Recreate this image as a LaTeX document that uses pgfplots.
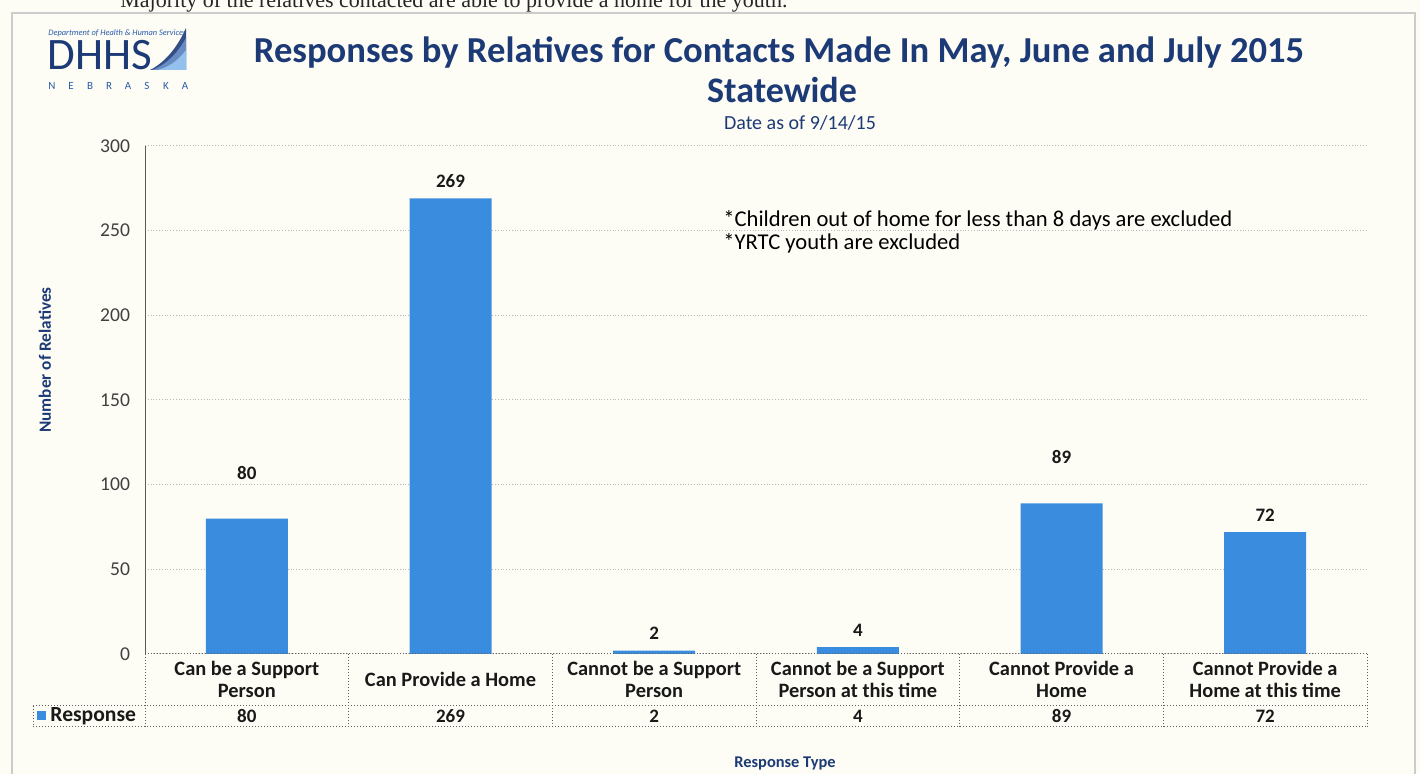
\documentclass[border=0pt]{standalone}
\usepackage{fontspec}
\setmainfont{Carlito}
\newfontfamily\serifont{Liberation Serif}
\usepackage{pgfplots}
\pgfplotsset{compat=1.18}
\definecolor{navy}{RGB}{28,58,118}
\definecolor{barblue}{RGB}{58,140,222}
\definecolor{bg}{RGB}{254,253,245}
\definecolor{tabline}{RGB}{95,95,95}
\definecolor{logoblue}{RGB}{40,90,170}
\newcommand{\lbl}{\bfseries\fontsize{9.5}{10.5}\selectfont}
\begin{document}
\begin{tikzpicture}[x=1pt,y=1pt]
\fill[bg] (0,0) rectangle (710,387);
\draw[gray!40, line width=0.6pt] (6,-2) -- (6,380.5) -- (707.5,380.5) -- (707.5,-2);
\node[anchor=base west, inner sep=0, font=\serifont\fontsize{11}{12}\selectfont, text=black!85] at (60,383) {Majority of the relatives contacted are able to provide a home for the youth.};
% logo
\node[anchor=west, inner sep=0, font=\itshape\fontsize{4.2}{5}\selectfont, text=logoblue] at (24,370.5) {Department of Health \& Human Services};
\node[anchor=base west, inner sep=0, font=\fontsize{22.5}{23}\selectfont, text=navy] at (23.5,352) {DHHS};
\fill[navy!90] (75,352) .. controls (83,356) and (89,364) .. (93,373) -- (93,352) -- cycle;
\fill[logoblue!70!white] (76,352) .. controls (84,355) and (89,361) .. (93,368) -- (93,352) -- cycle;
\fill[barblue!55!white] (79,352) .. controls (86,354) and (90,358) .. (93,362) -- (93,352) -- cycle;
\foreach \l [count=\i from 0] in {N,E,B,R,A,S,K,A}
  \node[inner sep=0, font=\fontsize{5.5}{6}\selectfont, text=logoblue] at (26+\i*9.5,344) {\l};
% titles
\node[font=\bfseries\fontsize{18.3}{20}\selectfont, text=navy] at (389.5,360.5) {Responses by Relatives for Contacts Made In May, June and July 2015};
\node[font=\bfseries\fontsize{18}{20}\selectfont, text=navy] at (391,342) {Statewide};
\node[font=\fontsize{10}{11}\selectfont, text=navy] at (400,325.5) {Date as of 9/14/15};
\node[rotate=90, font=\bfseries\fontsize{8.6}{9}\selectfont, text=navy] at (22.5,207) {Number of Relatives};
\node[font=\bfseries\fontsize{8.2}{9}\selectfont, text=navy] at (392.5,5.5) {Response Type};
\begin{axis}[
  at={(72.5pt,60pt)}, anchor=south west,
  scale only axis, width=611pt, height=254pt,
  xmin=-0.5, xmax=5.5, ymin=0, ymax=300,
  ytick={0,50,...,300},
  xtick={0,1,2,3,4,5},
  xticklabels={{Can be a Support\\Person},{Can Provide a Home},{Cannot be a Support\\Person},{Cannot be a Support\\Person at this time},{Cannot Provide a\\Home},{Cannot Provide a\\Home at this time}},
  xticklabel style={anchor=center, yshift=-12.5pt, align=center, font=\bfseries\fontsize{10.2}{11}\selectfont, text=black!90},
  yticklabel style={font=\fontsize{9.8}{11}\selectfont, text=black!75, xshift=-4pt},
  /pgf/number format/assume math mode=true,
  major tick length=0pt,
  axis line style={draw=none},
  ymajorgrids, grid style={densely dotted, gray!55, line width=0.5pt},
  clip=false,
]
\addplot[ybar, bar width=41pt, fill=barblue, draw=none] coordinates {(0,80) (1,269) (2,2) (3,4) (4,89) (5,72)};
\draw[gray!70!black, line width=0.5pt] (axis cs:-0.5,0) -- (axis cs:-0.5,300);
\node[font=\lbl, text=black!90, yshift=23pt] at (axis cs:0,80) {80};
\node[font=\lbl, text=black!90, yshift=8.5pt] at (axis cs:1,269) {269};
\node[font=\lbl, text=black!90, yshift=8.5pt] at (axis cs:2,2) {2};
\node[font=\lbl, text=black!90, yshift=8.5pt] at (axis cs:3,4) {4};
\node[font=\lbl, text=black!90, yshift=23pt] at (axis cs:4,89) {89};
\node[font=\lbl, text=black!90, yshift=8.5pt] at (axis cs:5,72) {72};
\node[font=\lbl, text=black!90, yshift=-31pt] at (axis cs:0,0) {80};
\node[font=\lbl, text=black!90, yshift=-31pt] at (axis cs:1,0) {269};
\node[font=\lbl, text=black!90, yshift=-31pt] at (axis cs:2,0) {2};
\node[font=\lbl, text=black!90, yshift=-31pt] at (axis cs:3,0) {4};
\node[font=\lbl, text=black!90, yshift=-31pt] at (axis cs:4,0) {89};
\node[font=\lbl, text=black!90, yshift=-31pt] at (axis cs:5,0) {72};
\end{axis}
% notes
\node[anchor=west, inner sep=0, font=\fontsize{11.3}{12}\selectfont, text=black] at (361.5,277) {*Children out of home for less than 8 days are excluded};
\node[anchor=west, inner sep=0, font=\fontsize{11.3}{12}\selectfont, text=black] at (361.5,265.5) {*YRTC youth are excluded};
% data table lines
\begin{scope}[tabline, densely dotted, line width=0.5pt]
\draw (72.5,60) -- (683.5,60);
\draw (16.5,34) -- (683.5,34);
\draw (16.5,23.5) -- (683.5,23.5);
\draw (16.5,34) -- (16.5,23.5);
\foreach \k in {0,...,6} \draw (72.5+\k*101.8333,60) -- (72.5+\k*101.8333,23.5);
\end{scope}
\fill[barblue] (18.5,26.8) rectangle (23,31.3);
\node[anchor=west, inner sep=0, font=\bfseries\fontsize{10.8}{11}\selectfont, text=black!90] at (25,29) {Response};
\pgfresetboundingbox
\useasboundingbox (0,0) rectangle (710,387);
\end{tikzpicture}
\end{document}
